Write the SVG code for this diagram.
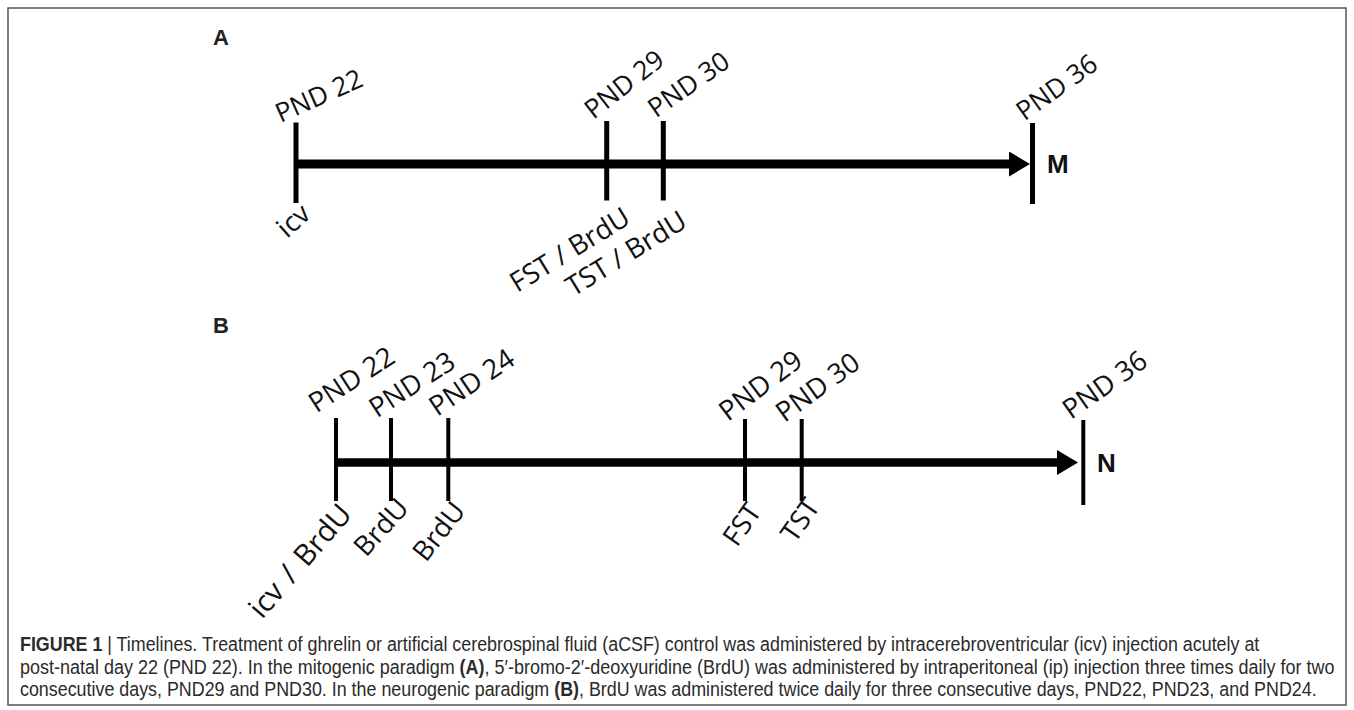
<svg xmlns="http://www.w3.org/2000/svg" width="1354" height="710" viewBox="0 0 1354 710">
<defs>
<style>
.lbl{font-family:"Open Sans","Noto Sans",sans-serif;font-size:26.5px;fill:#111}
.lb2{font-family:"Open Sans","Noto Sans",sans-serif;font-size:27.5px;fill:#111}
.pan{font-family:"Liberation Sans",Arial,sans-serif;font-size:22px;font-weight:bold;fill:#222}
.end{font-family:"Liberation Sans",Arial,sans-serif;font-size:26px;font-weight:bold;fill:#111}
.axis{stroke:#000;fill:none}
.tick{stroke:#000;stroke-width:5}
.tickb{stroke:#000;stroke-width:4}
.cap{font-family:"Liberation Sans",Arial,sans-serif;font-size:19.5px;fill:#2b2b2b}
.b{font-weight:bold}
</style>
<marker id="ah" markerUnits="userSpaceOnUse" markerWidth="22" markerHeight="26" refX="2" refY="12.5" orient="auto">
<path d="M0,0 L21,12.5 L0,25 z" fill="#000"/>
</marker>
</defs>
<rect x="8" y="8" width="1338" height="697" fill="none" stroke="#555" stroke-width="1.5"/>

<g id="connectors">
<line class="axis" x1="296" y1="164" x2="1011" y2="164" stroke-width="9" marker-end="url(#ah)"/>
<line class="axis" x1="336" y1="462.5" x2="1059" y2="462.5" stroke-width="8.5" marker-end="url(#ah)"/>
</g>

<g id="panelA">
<text class="pan" x="213" y="45">A</text>
<g id="A-pnd22"><line class="tick" x1="296" y1="122.5" x2="296" y2="203"/>
<text class="lbl" transform="translate(280.5,123) rotate(-24)">PND 22</text>
<text class="lb2" transform="translate(287,239) rotate(-42)">icv</text></g>
<g id="A-pnd29"><line class="tick" x1="606.7" y1="121" x2="606.7" y2="200.5"/>
<text class="lbl" transform="translate(593.5,120) rotate(-38)">PND 29</text>
<text class="lb2" transform="translate(517.3,293) rotate(-31.5)">FST / BrdU</text></g>
<g id="A-pnd30"><line class="tick" x1="663.3" y1="121" x2="663.3" y2="200.5"/>
<text class="lbl" transform="translate(656,118.5) rotate(-35)">PND 30</text>
<text class="lb2" transform="translate(573.2,297) rotate(-31.5)">TST / BrdU</text></g>
<g id="A-pnd36"><line class="tick" x1="1032.5" y1="123" x2="1032.5" y2="204" stroke-width="6.5"/>
<text class="lbl" transform="translate(1024.5,121.5) rotate(-35.5)">PND 36</text>
<text class="end" x="1047" y="173">M</text></g>
</g>

<g id="panelB">
<text class="pan" x="213" y="333">B</text>
<g id="B-pnd22"><line class="tickb" x1="336" y1="418" x2="336" y2="501"/>
<text class="lb2" transform="translate(316.5,413.5) rotate(-33)">PND 22</text>
<text class="lb2" style="font-size:29.5px" transform="translate(262,620) rotate(-49)">icv <tspan dx="3">/ </tspan><tspan dx="3">BrdU</tspan></text></g>
<g id="B-pnd23"><line class="tickb" x1="391" y1="418" x2="391" y2="501"/>
<text class="lb2" transform="translate(377,418.5) rotate(-33)">PND 23</text>
<text class="lb2" transform="translate(366,558) rotate(-48)">BrdU</text></g>
<g id="B-pnd24"><line class="tickb" x1="448.3" y1="418" x2="448.3" y2="501"/>
<text class="lb2" transform="translate(437.3,417) rotate(-34)">PND 24</text>
<text class="lb2" transform="translate(426,563) rotate(-52)">BrdU</text></g>
<g id="B-pnd29"><line class="tickb" x1="745" y1="419" x2="745" y2="501"/>
<text class="lb2" transform="translate(728,422) rotate(-37)">PND 29</text>
<text class="lb2" transform="translate(737,548) rotate(-55)">FST</text></g>
<g id="B-pnd30"><line class="tickb" x1="801.7" y1="419" x2="801.7" y2="501"/>
<text class="lb2" transform="translate(784.5,423) rotate(-36)">PND 30</text>
<text class="lb2" transform="translate(795,544) rotate(-55)">TST</text></g>
<g id="B-pnd36"><line class="tickb" x1="1083.3" y1="420" x2="1083.3" y2="505"/>
<text class="lb2" transform="translate(1071,420) rotate(-35)">PND 36</text>
<text class="end" x="1097" y="472">N</text></g>
</g>

<g id="caption">
<text class="cap" transform="translate(20,651) scale(0.9166,1)"><tspan class="b">FIGURE 1</tspan> | Timelines. Treatment of ghrelin or artificial cerebrospinal fluid (aCSF) control was administered by intracerebroventricular (icv) injection acutely at</text>
<text class="cap" transform="translate(20,674) scale(0.922,1)">post-natal day 22 (PND 22). In the mitogenic paradigm <tspan class="b">(A)</tspan>, 5′-bromo-2′-deoxyuridine (BrdU) was administered by intraperitoneal (ip) injection three times daily for two</text>
<text class="cap" transform="translate(20,696) scale(0.917,1)">consecutive days, PND29 and PND30. In the neurogenic paradigm <tspan class="b">(B)</tspan>, BrdU was administered twice daily for three consecutive days, PND22, PND23, and PND24.</text>
</g>
</svg>
